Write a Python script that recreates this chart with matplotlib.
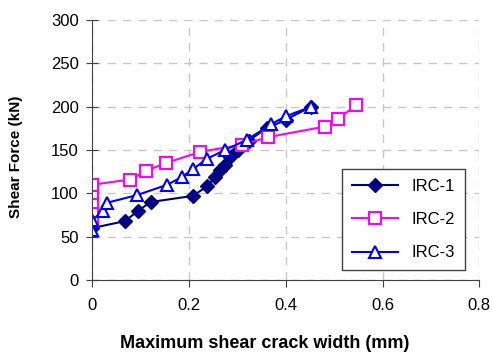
import matplotlib
matplotlib.use("Agg")
import matplotlib.pyplot as plt

plt.rcParams['font.family'] = ['Liberation Sans', 'DejaVu Sans']

# crack width (mm) vs shear force (kN)
irc1_w = [0, 0.067, 0.095, 0.12, 0.207, 0.237, 0.254, 0.264, 0.275, 0.285, 0.30, 0.323, 0.36, 0.40, 0.452]
irc1_v = [60, 68, 80, 90, 97, 108, 119, 127, 133, 142, 150, 161, 175, 185, 200]

irc2_w = [0, 0, 0, 0, 0, 0.078, 0.111, 0.152, 0.223, 0.309, 0.364, 0.48, 0.508, 0.546]
irc2_v = [70, 80, 90, 100, 110, 116, 126, 135, 148, 156, 165, 177, 186, 202]

irc3_w = [0, 0, 0.021, 0.029, 0.092, 0.155, 0.185, 0.208, 0.237, 0.274, 0.32, 0.37, 0.40, 0.452]
irc3_v = [58, 69, 80, 89, 98, 110, 119, 128, 140, 150, 162, 180, 189, 200]

x_ticks = [0, 0.2, 0.4, 0.6, 0.8]
x_labels = ['0', '0.2', '0.4', '0.6', '0.8']
y_ticks = [0, 50, 100, 150, 200, 250, 300]

fig = plt.figure(figsize=(4.92, 3.52), dpi=100)
ax = fig.add_axes([0.188, 0.2045, 0.786, 0.7385])

ax.plot(irc1_w, irc1_v, color='#000080', marker='D', markersize=7,
        markerfacecolor='#000080', markeredgecolor='#000080', lw=1.5, label='IRC-1')
ax.plot(irc2_w, irc2_v, color='#FF00FF', marker='s', markersize=8,
        markerfacecolor='white', markeredgecolor='#FF00FF', markeredgewidth=1.5,
        lw=1.5, label='IRC-2')
ax.plot(irc3_w, irc3_v, color='#0000FF', marker='^', markersize=9,
        markerfacecolor='white', markeredgecolor='#0000FF', markeredgewidth=1.5,
        lw=1.5, label='IRC-3')

ax.set_xlim(0, 0.8)
ax.set_ylim(0, 300)
ax.set_xticks(x_ticks)
ax.set_xticklabels(x_labels)
ax.set_yticks(y_ticks)
ax.grid(True, color='#c8c8c8', linestyle=(0, (6, 5)), linewidth=1)
ax.set_axisbelow(True)

for s in ['top', 'right']:
    ax.spines[s].set_visible(False)
for s in ['left', 'bottom']:
    ax.spines[s].set_color('#404040')
ax.tick_params(axis='y', direction='inout', length=8, labelsize=12, pad=6, color='#404040')
ax.tick_params(axis='x', direction='out', length=5, labelsize=12, pad=8, color='#404040')

ax.set_xlabel('Maximum shear crack width (mm)', fontsize=13, fontweight='bold')
ax.set_ylabel('Shear Force (kN)', fontsize=11, fontweight='bold')
ax.xaxis.set_label_coords(0.446, -0.21)
ax.yaxis.set_label_coords(-0.18, 0.473)

leg = ax.legend(loc='lower right', bbox_to_anchor=(0.985, 0.005), fontsize=12,
                fancybox=False, framealpha=1, edgecolor='#404040',
                handlelength=2.8, labelspacing=1.1, borderpad=0.6)
leg.get_frame().set_linewidth(1)

fig.savefig('out.png', dpi=100)
